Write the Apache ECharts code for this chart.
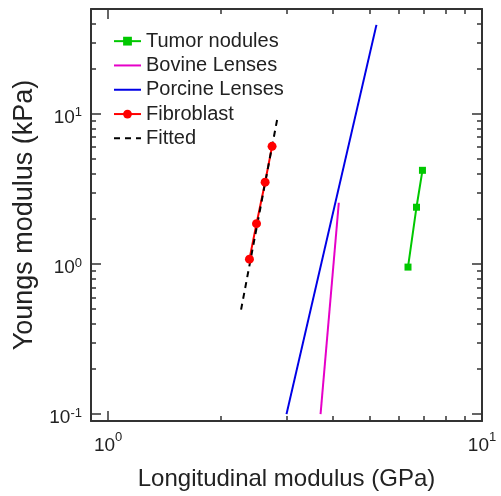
<!DOCTYPE html>
<html>
<head>
<meta charset="utf-8">
<script src="https://cdn.jsdelivr.net/npm/echarts@6/dist/echarts.min.js"></script>
<style>html,body{margin:0;padding:0;background:#fff}#c{width:501px;height:496px}</style>
</head>
<body>
<div id="c"></div>
<script>
// ---- data ----
const tumorX = [6.34, 6.68, 6.93];
const tumorY = [0.954, 2.39, 4.21];
const bovineX = [3.70, 4.14];
const bovineY = [0.1, 2.56];
const porcineX = [3.00, 5.22];
const porcineY = [0.1, 39.2];
const fibroX = [2.388, 2.494, 2.630, 2.745];
const fibroY = [1.078, 1.857, 3.51, 6.08];
const fittedX = [2.268, 2.838];
const fittedY = [0.497, 9.42];

const xMajorTicks = [1, 10];
const xMinorTicks = [2, 3, 4, 5, 6, 7, 8, 9];
const yMajorTicks = [0.1, 1, 10];
const yMinorTicks = [0.2, 0.3, 0.4, 0.5, 0.6, 0.7, 0.8, 0.9, 2, 3, 4, 5, 6, 7, 8, 9, 20, 30, 40];

const xTitle = 'Longitudinal modulus (GPa)';
const yTitle = 'Youngs modulus (kPa)';

const zip = (a, b) => a.map((v, i) => [v, b[i]]);

const FONT = 'Liberation Sans, Arial, Helvetica, sans-serif';
const AX = '#333';
const TXT = '#222';

const fmt = v => '{b|10}{s|' + Math.round(Math.log10(v)) + '}';
const richX = {
  b: {fontSize: 19, lineHeight: 30, fontFamily: FONT, color: TXT},
  s: {fontSize: 13, lineHeight: 13, verticalAlign: 'top', fontFamily: FONT, color: TXT}
};
const richY = {
  b: {fontSize: 19, lineHeight: 22, fontFamily: FONT, color: TXT},
  s: {fontSize: 13, lineHeight: 13, verticalAlign: 'top', fontFamily: FONT, color: TXT}
};

function xAx(pos, major, showLabel) {
  return {
    type: 'log', logBase: 10, min: 0.9, max: 10, position: pos,
    axisLine: {show: major, lineStyle: {color: AX, width: 2}},
    axisTick: {show: true, inside: true, length: major ? 10 : 5,
      customValues: major ? xMajorTicks : xMinorTicks,
      lineStyle: {color: AX, width: 1.5}},
    axisLabel: {show: showLabel, customValues: xMajorTicks, formatter: fmt, rich: richX, margin: 10},
    splitLine: {show: false}, minorTick: {show: false},
    name: showLabel ? xTitle : '', nameLocation: 'middle', nameGap: 46,
    nameTextStyle: {fontSize: 24, fontFamily: FONT, color: TXT}
  };
}
function yAx(pos, major, showLabel) {
  return {
    type: 'log', logBase: 10, min: 0.09, max: 50, position: pos,
    axisLine: {show: major, lineStyle: {color: AX, width: 2}},
    axisTick: {show: true, inside: true, length: major ? 10 : 5,
      customValues: major ? yMajorTicks : yMinorTicks,
      lineStyle: {color: AX, width: 1.5}},
    axisLabel: {show: showLabel, customValues: yMajorTicks, formatter: fmt, rich: richY, margin: 9,
      padding: [7, 0, 0, 0]},
    splitLine: {show: false}, minorTick: {show: false},
    name: showLabel ? yTitle : '', nameLocation: 'middle', nameGap: 50,
    nameTextStyle: {fontSize: 27, fontFamily: FONT, color: TXT}
  };
}

const hide = {color: 'rgba(0,0,0,0)', borderWidth: 0};

const chart = echarts.init(document.getElementById('c'), null, {renderer: 'canvas'});
chart.setOption({
  animation: false,
  backgroundColor: '#fff',
  grid: {left: 91, right: 19, top: 9, bottom: 74, containLabel: false},
  xAxis: [xAx('bottom', true, true), xAx('bottom', false, false), xAx('top', true, false), xAx('top', false, false)],
  yAxis: [yAx('left', true, true), yAx('left', false, false), yAx('right', true, false), yAx('right', false, false)],
  legend: {
    orient: 'vertical', left: 108, top: 24,
    itemWidth: 27, itemHeight: 11, itemGap: 0,
    textStyle: {fontSize: 20, fontFamily: FONT, color: TXT, lineHeight: 24.3},
    data: [
      {name: 'Tumor nodules'},
      {name: 'Bovine Lenses', itemStyle: hide},
      {name: 'Porcine Lenses', itemStyle: hide},
      {name: 'Fibroblast'},
      {name: 'Fitted', itemStyle: hide}
    ]
  },
  series: [
    {name: 'Tumor nodules', type: 'line', data: zip(tumorX, tumorY), symbol: 'rect', symbolSize: 7,
      itemStyle: {color: '#00c800'}, lineStyle: {color: '#00c800', width: 2}},
    {name: 'Bovine Lenses', type: 'line', data: zip(bovineX, bovineY), symbol: 'none',
      itemStyle: {color: '#e600c8'}, lineStyle: {color: '#e600c8', width: 2}},
    {name: 'Porcine Lenses', type: 'line', data: zip(porcineX, porcineY), symbol: 'none',
      itemStyle: {color: '#0000e6'}, lineStyle: {color: '#0000e6', width: 2}},
    {name: 'Fibroblast', type: 'line', data: zip(fibroX, fibroY), symbol: 'circle', symbolSize: 9,
      itemStyle: {color: '#ff0000'}, lineStyle: {color: '#ff0000', width: 2}},
    {name: 'Fitted', type: 'line', data: zip(fittedX, fittedY), symbol: 'none',
      itemStyle: {color: '#000'}, lineStyle: {color: '#000', width: 2, type: [6, 5]}, z: 3}
  ]
});
</script>
</body>
</html>
